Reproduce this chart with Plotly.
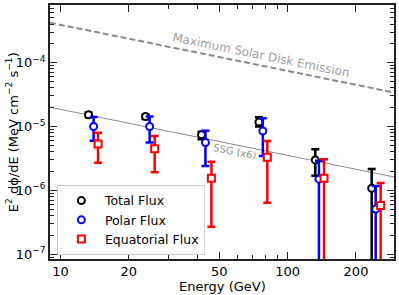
import numpy as np
import plotly.graph_objects as go

# ---- data ----
total_E = [13.3, 23.7, 41.8, 74.8, 132.4, 234.5]
total_F = [1.52e-5, 1.43e-5, 7.4e-6, 1.17e-5, 3.0e-6, 1.08e-6]
total_hi = [1.65e-5, 1.53e-5, 8.3e-6, 1.40e-5, 4.4e-6, 2.17e-6]
total_lo = [1.40e-5, 1.31e-5, 6.3e-6, 1.00e-5, 1.69e-6, 1e-9]

polar_E = [14.0, 24.7, 43.5, 77.8, 137.4, 244.2]
polar_F = [1.0e-5, 1.0e-5, 5.6e-6, 8.5e-6, 1.5e-6, 5.1e-7]
polar_hi = [1.41e-5, 1.43e-5, 8.6e-6, 1.35e-5, 2.9e-6, 1.17e-6]
polar_lo = [6.0e-6, 5.6e-6, 2.4e-6, 3.46e-6, 1e-9, 1e-9]

equ_E = [14.65, 26.0, 46.2, 81.4, 144.7, 256.9]
equ_F = [5.33e-6, 4.5e-6, 1.55e-6, 3.3e-6, 1.55e-6, 5.8e-7]
equ_hi = [8.0e-6, 7.1e-6, 2.8e-6, 5.95e-6, 3.08e-6, 1.31e-6]
equ_lo = [2.7e-6, 1.93e-6, 2.7e-7, 6.4e-7, 1e-9, 1e-9]

ssg_E = [9.0, 300.0]
ssg_F = [2.0e-5, 1.6e-6]
maxdisk_E = [9.0, 300.0]
maxdisk_F = [4.2e-4, 3.35e-5]

xtick_vals = [10, 20, 50, 100, 200]
ytick_vals = [1e-7, 1e-6, 1e-5, 1e-4]
ytick_text = ["10<sup>\u22127</sup>", "10<sup>\u22126</sup>", "10<sup>\u22125</sup>", "10<sup>\u22124</sup>"]

fig = go.Figure()

fig.add_trace(go.Scatter(x=maxdisk_E, y=maxdisk_F, mode="lines",
                         line=dict(color="#8a8a8a", width=2, dash="6px,3px"),
                         showlegend=False, hoverinfo="skip"))
fig.add_trace(go.Scatter(x=ssg_E, y=ssg_F, mode="lines",
                         line=dict(color="#8a8a8a", width=1),
                         showlegend=False, hoverinfo="skip"))

def add_series(E, F, hi, lo, color, symbol, name):
    plus = [h - f for h, f in zip(hi, F)]
    minus = [f - l for f, l in zip(F, lo)]
    fig.add_trace(go.Scatter(
        x=E, y=F, mode="markers", name=name,
        marker=dict(symbol=symbol, size=7, color="white",
                    line=dict(color=color, width=2)),
        error_y=dict(type="data", array=plus, arrayminus=minus, symmetric=False,
                     color=color, thickness=2.5, width=4),
    ))

add_series(total_E, total_F, total_hi, total_lo, "black", "circle", "Total Flux")
add_series(polar_E, polar_F, polar_hi, polar_lo, "blue", "circle", "Polar Flux")
add_series(equ_E, equ_F, equ_hi, equ_lo, "red", "square", "Equatorial Flux")

fig.add_annotation(x=np.log10(76), y=np.log10(1.32e-4), text="Maximum Solar Disk Emission",
                   showarrow=False, textangle=11.5,
                   font=dict(family="DejaVu Sans", size=12, color="#a0a0a0"))
fig.add_annotation(x=np.log10(58.4), y=np.log10(4.0e-6), text="SSG (x6)",
                   showarrow=False, textangle=11.5,
                   font=dict(family="DejaVu Sans", size=10, color="#909090"))

# axis titles
fig.add_annotation(xref="paper", yref="paper", x=0.5, y=-0.107, xanchor="center", yanchor="middle",
                   text="Energy (GeV)", showarrow=False,
                   font=dict(family="DejaVu Sans", size=13, color="black"))
fig.add_annotation(xref="paper", yref="paper", x=-0.11, y=0.5, xanchor="center", yanchor="middle",
                   text="E<sup>2</sup> d\u03d5/dE (MeV cm<sup>\u22122</sup> s<sup>\u22121</sup>)",
                   textangle=-90, showarrow=False,
                   font=dict(family="DejaVu Sans", size=13, color="black"))

xminor = [v for d in [1, 10, 100] for v in [d * k for k in range(2, 10)] if v not in xtick_vals]
yminor = [k * 10.0 ** e for e in range(-8, -2) for k in range(2, 10)]

axis_common = dict(showline=True, linecolor="#222", linewidth=1.5, mirror="ticks",
                   ticks="inside", ticklen=7, tickwidth=1.2, tickcolor="#222",
                   showgrid=False, zeroline=False, automargin=False,
                   tickfont=dict(family="DejaVu Sans", size=13, color="black"))

fig.update_xaxes(type="log", range=[np.log10(9.0), np.log10(294)],
                 tickmode="array", tickvals=xtick_vals, ticktext=[str(v) for v in xtick_vals],
                 minor=dict(tickmode="array", tickvals=xminor, ticks="inside", ticklen=4,
                            tickwidth=1, tickcolor="#222"),
                 **axis_common)
fig.update_yaxes(type="log", range=[-7.073, -3.10],
                 tickmode="array", tickvals=ytick_vals, ticktext=ytick_text,
                 minor=dict(tickmode="array", tickvals=yminor, ticks="inside", ticklen=4,
                            tickwidth=1, tickcolor="#222"),
                 **axis_common)

fig.update_layout(
    width=399, height=295,
    margin=dict(l=50, r=5, t=5, b=36, autoexpand=False),
    plot_bgcolor="white", paper_bgcolor="white",
    font=dict(family="DejaVu Sans", size=13, color="black"),
    legend=dict(x=0.02, y=0.016, xanchor="left", yanchor="bottom",
                bgcolor="white", bordercolor="#cccccc", borderwidth=1,
                font=dict(family="DejaVu Sans", size=12.5), tracegroupgap=0,
                itemwidth=37),
)

fig.write_html("out.html", config={"displayModeBar": False},
               post_script="document.body.style.margin='0px';")
